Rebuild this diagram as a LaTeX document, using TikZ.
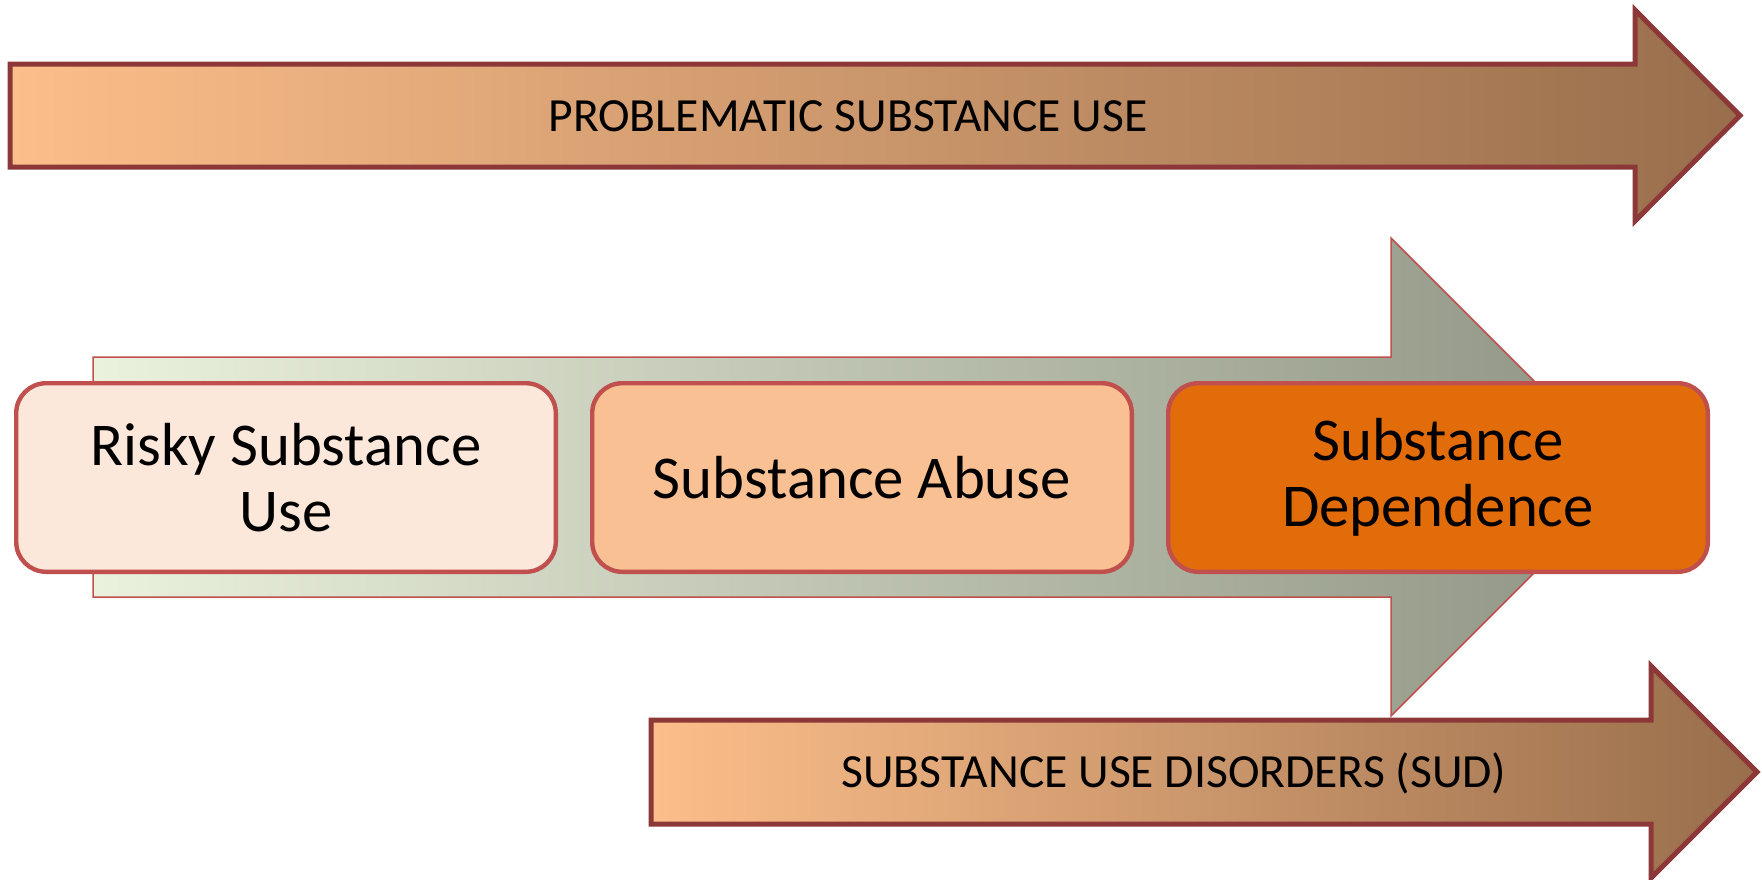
\documentclass[tikz,border=0pt]{standalone}
\usepackage{fontspec}
\setmainfont{Carlito}
\usetikzlibrary{shapes,
                positioning}
\definecolor{peachleft}{RGB}{252,190,138}
\definecolor{brownright}{RGB}{153,110,76}
\definecolor{darkrim}{RGB}{140,56,56}
\definecolor{paleleft}{RGB}{234,241,220}
\definecolor{greyright}{RGB}{143,148,132}
\definecolor{stagerim}{RGB}{192,80,77}
\definecolor{riskyfill}{RGB}{252,232,218}
\definecolor{abusefill}{RGB}{249,192,148}
\definecolor{dependfill}{RGB}{227,108,10}
\tikzset{stage/.style =
   {rectangle,
    rounded corners=15pt,
    draw=stagerim,
    line width=2.2pt,
    minimum width=269.8pt,
    minimum height=94.3pt,
    align=center,
    font=\fontsize{30.4}{33}\selectfont}}
\tikzset{bandarrow/.style =
   {draw=darkrim,
    line width=2.5pt,
    left color=peachleft,
    right color=brownright}}
\tikzset{backarrow/.style =
   {draw=stagerim,
    line width=0.75pt,
    left color=paleleft,
    right color=greyright}}
\tikzset{bandtext/.style = {font=\fontsize{23.8}{26}\selectfont}}

\begin{document}
\begin{tikzpicture}[x=0.5pt, y=-0.5pt]

        \useasboundingbox (0,0) rectangle (1762,879);

        % the two outer bands
        \path [bandarrow] (10,64) -- (1635,64) -- (1635,10) -- (1740,115.5)
              -- (1635,221) -- (1635,167) -- (10,167) -- cycle;

        \path [backarrow] (93,357) -- (1391,357) -- (1391,238) -- (1630,477)
              -- (1391,716) -- (1391,597) -- (93,597) -- cycle;

        \path [bandarrow] (651,720) -- (1651,720) -- (1651,666) -- (1757,772)
              -- (1651,878) -- (1651,824) -- (651,824) -- cycle;

        \node [bandtext] (problematic) at (848,116) {PROBLEMATIC SUBSTANCE USE};

        \node [bandtext] (sud) at (1174,773) {SUBSTANCE USE DISORDERS (SUD)};

        % stages
        \node [stage,
               fill=riskyfill] (risky) at (286,477.5) {Risky Substance\\Use};

        \node [stage,
               fill=abusefill,
               right=16pt of risky] (abuse) {Substance Abuse};

        \node [stage,
               fill=dependfill,
               right=16pt of abuse] (dependence) {Substance\\Dependence};

    \end{tikzpicture}
\end{document}
